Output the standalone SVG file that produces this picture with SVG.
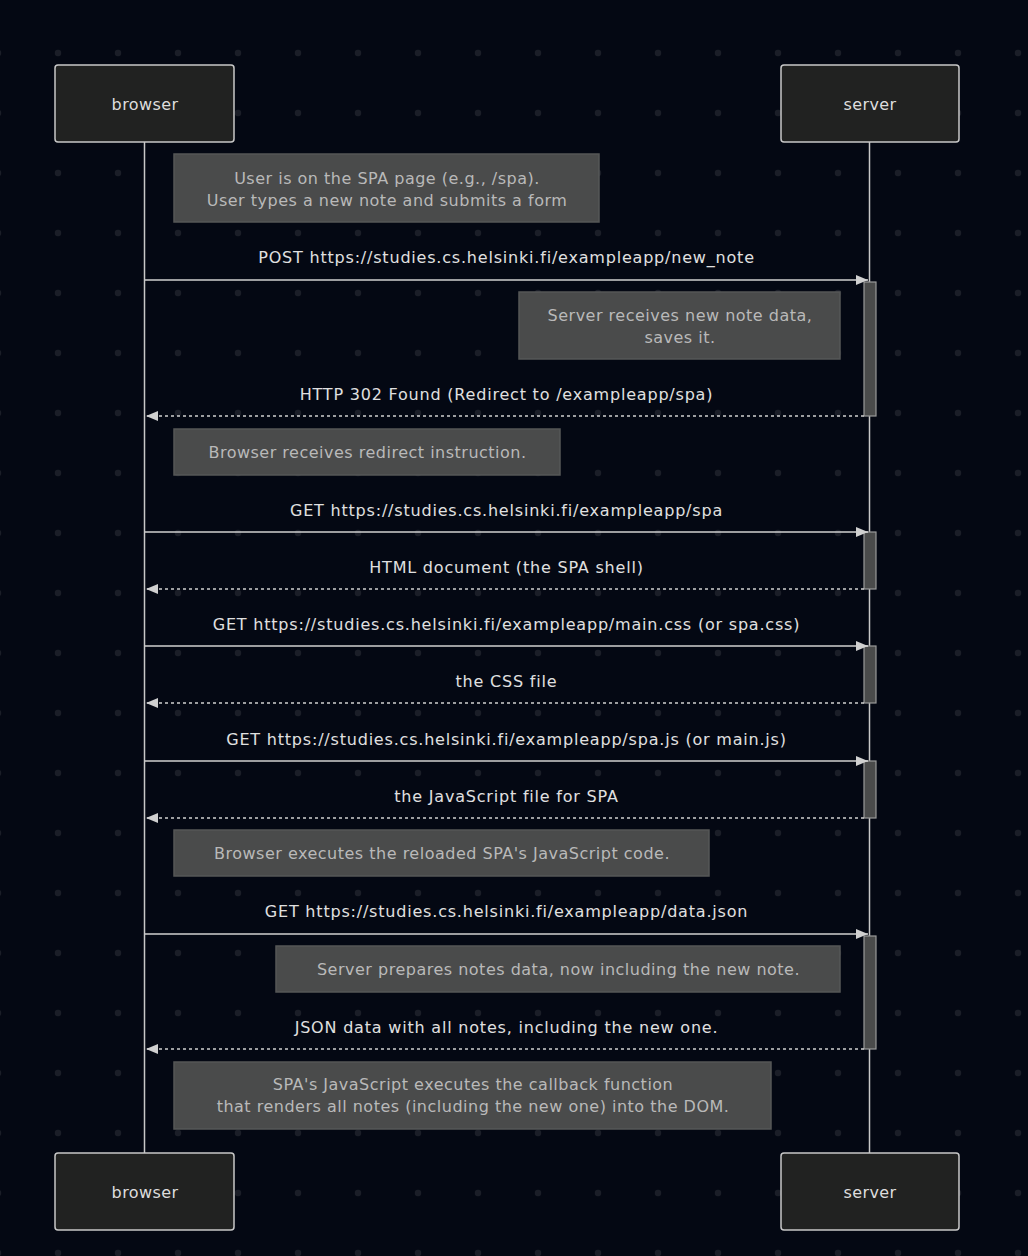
<svg xmlns="http://www.w3.org/2000/svg" width="1028" height="1256" viewBox="0 0 1028 1256">
<defs>
<pattern id="dots" x="28" y="23" width="60" height="60" patternUnits="userSpaceOnUse">
<circle cx="30" cy="30" r="3.2" fill="#1b1e28"/>
</pattern>
<marker id="arrow" viewBox="0 0 12 10" refX="12" refY="5" markerWidth="12" markerHeight="10" markerUnits="userSpaceOnUse" orient="auto">
<path d="M0,0 L12,5 L0,10 z" fill="#d0d0d0"/>
</marker>
</defs>
<style>
text{font-family:"DejaVu Sans",sans-serif;text-anchor:middle;}
.actor rect{fill:#212221;stroke:#c8c8c8;stroke-width:1.5;}
.actor text{fill:#dddddd;font-size:16px;letter-spacing:0.4px;}
.note rect{fill:#4a4b4b;stroke:#565757;stroke-width:1.5;}
.note text{fill:#b9b9b9;font-size:16px;letter-spacing:0.5px;}
.msg{fill:#e0e0e0;font-size:16px;letter-spacing:0.8px;}
.line{stroke:#d0d0d0;stroke-width:1.5;fill:none;}
.dash{stroke-dasharray:3 3;}
.act{fill:#4a4b4b;stroke:#9a9a9a;stroke-width:1.2;}
.life{stroke:#c8c8c8;stroke-width:1.5;}
</style>
<rect width="1028" height="1256" fill="#040813"/>
<rect width="1028" height="1256" fill="url(#dots)"/>

<g id="lifelines">
<line class="life" x1="144.5" y1="142" x2="144.5" y2="1153"/>
<line class="life" x1="869.5" y1="142" x2="869.5" y2="1153"/>
</g>

<g id="activations">
<rect class="act" x="864" y="282" width="12" height="134"/>
<rect class="act" x="864" y="532" width="12" height="57"/>
<rect class="act" x="864" y="646" width="12" height="57"/>
<rect class="act" x="864" y="761" width="12" height="57"/>
<rect class="act" x="864" y="936" width="12" height="113"/>
</g>

<g id="actor-browser-top" class="actor"><rect x="55" y="65" width="179" height="77" rx="3"/><text x="145" y="110">browser</text></g>
<g id="actor-server-top" class="actor"><rect x="781" y="65" width="178" height="77" rx="3"/><text x="870" y="110">server</text></g>
<g id="actor-browser-bottom" class="actor"><rect x="55" y="1153" width="179" height="77" rx="3"/><text x="145" y="1198">browser</text></g>
<g id="actor-server-bottom" class="actor"><rect x="781" y="1153" width="178" height="77" rx="3"/><text x="870" y="1198">server</text></g>

<g id="note1" class="note"><rect x="174" y="154" width="425" height="68"/><text x="387" y="184">User is on the SPA page (e.g., /spa).</text><text x="387" y="206">User types a new note and submits a form</text></g>
<g id="note2" class="note"><rect x="519" y="292" width="321" height="67"/><text x="680" y="321">Server receives new note data,</text><text x="680" y="343">saves it.</text></g>
<g id="note3" class="note"><rect x="174" y="429" width="386" height="46"/><text x="367.5" y="458">Browser receives redirect instruction.</text></g>
<g id="note4" class="note"><rect x="174" y="830" width="535" height="46"/><text x="442" y="859">Browser executes the reloaded SPA's JavaScript code.</text></g>
<g id="note5" class="note"><rect x="276" y="946" width="564" height="46"/><text x="558.5" y="975">Server prepares notes data, now including the new note.</text></g>
<g id="note6" class="note"><rect x="174" y="1062" width="597" height="67"/><text x="473" y="1090">SPA's JavaScript executes the callback function</text><text x="473" y="1112">that renders all notes (including the new one) into the DOM.</text></g>

<g id="messages">
<text class="msg" x="506.5" y="263">POST https://studies.cs.helsinki.fi/exampleapp/new_note</text>
<line class="line" x1="145" y1="280" x2="868" y2="280" marker-end="url(#arrow)"/>
<text class="msg" x="506.5" y="400">HTTP 302 Found (Redirect to /exampleapp/spa)</text>
<line class="line dash" x1="864" y1="416" x2="146" y2="416" marker-end="url(#arrow)"/>
<text class="msg" x="506.5" y="516">GET https://studies.cs.helsinki.fi/exampleapp/spa</text>
<line class="line" x1="145" y1="532" x2="868" y2="532" marker-end="url(#arrow)"/>
<text class="msg" x="506.5" y="573">HTML document (the SPA shell)</text>
<line class="line dash" x1="864" y1="589" x2="146" y2="589" marker-end="url(#arrow)"/>
<text class="msg" x="506.5" y="630">GET https://studies.cs.helsinki.fi/exampleapp/main.css (or spa.css)</text>
<line class="line" x1="145" y1="646" x2="868" y2="646" marker-end="url(#arrow)"/>
<text class="msg" x="506.5" y="687">the CSS file</text>
<line class="line dash" x1="864" y1="703" x2="146" y2="703" marker-end="url(#arrow)"/>
<text class="msg" x="506.5" y="745">GET https://studies.cs.helsinki.fi/exampleapp/spa.js (or main.js)</text>
<line class="line" x1="145" y1="761" x2="868" y2="761" marker-end="url(#arrow)"/>
<text class="msg" x="506.5" y="802">the JavaScript file for SPA</text>
<line class="line dash" x1="864" y1="818" x2="146" y2="818" marker-end="url(#arrow)"/>
<text class="msg" x="506.5" y="917">GET https://studies.cs.helsinki.fi/exampleapp/data.json</text>
<line class="line" x1="145" y1="934" x2="868" y2="934" marker-end="url(#arrow)"/>
<text class="msg" x="506.5" y="1033">JSON data with all notes, including the new one.</text>
<line class="line dash" x1="864" y1="1049" x2="146" y2="1049" marker-end="url(#arrow)"/>
</g>
</svg>
